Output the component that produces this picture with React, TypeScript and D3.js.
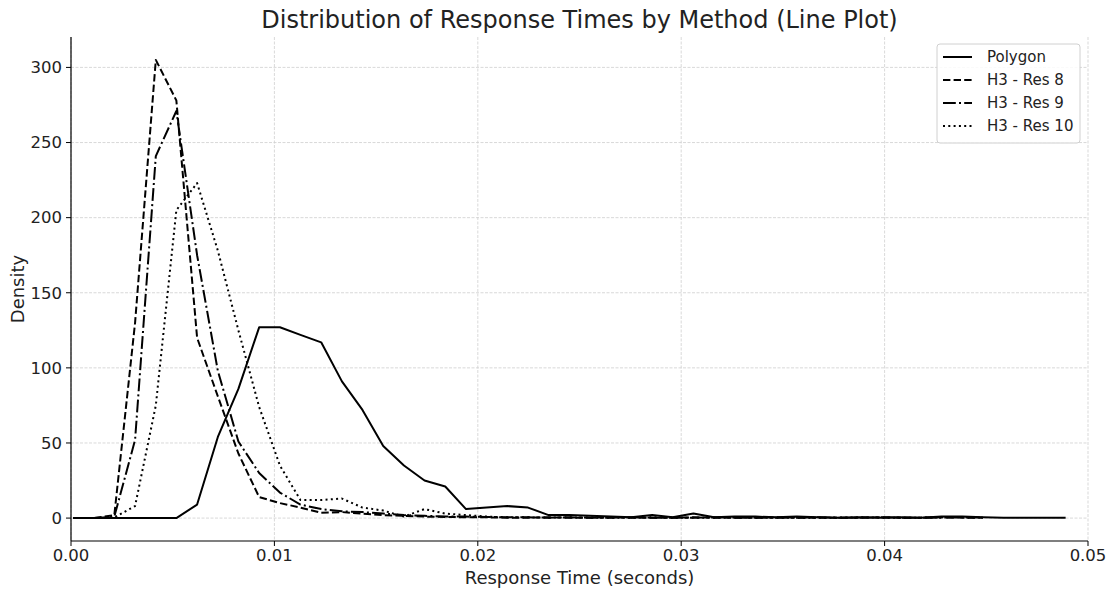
import React from 'react';
import * as d3 from 'd3';

// bin centres (seconds)
const BINS = [
  0.0001, 0.00112, 0.00213, 0.00315, 0.00417, 0.00518, 0.0062, 0.00722, 0.00823, 0.00925,
  0.01027, 0.01128, 0.0123, 0.01332, 0.01433, 0.01535, 0.01637, 0.01738, 0.0184, 0.01942,
  0.02043, 0.02145, 0.02247, 0.02348, 0.0245, 0.02552, 0.02653, 0.02755, 0.02857, 0.02958,
  0.0306, 0.03162, 0.03263, 0.03365, 0.03467, 0.03568, 0.0367, 0.03772, 0.03873, 0.03975,
  0.04077, 0.04178, 0.0428, 0.04382, 0.04483, 0.04585, 0.04687, 0.04788, 0.0489,
];

const POLYGON = [
  0, 0, 0, 0, 0, 0, 9, 54, 86, 127,
  127, 122, 117, 91, 72, 48, 35, 25, 21, 6,
  7, 8, 7, 2, 2, 1.5, 1, 0.5, 2, 0.5,
  3, 0.5, 1, 1, 0.5, 1, 0.5, 0.3, 0.5, 0.3,
  0.5, 0.3, 1, 1, 0.5, 0.3, 0.3, 0.3, 0.3,
];
const RES8 = [
  0, 0, 2, 130, 305, 278, 120, 81, 43, 14,
  10, 7, 3.5, 4, 3, 2, 1.5, 1, 0.8, 0.5,
  0.5, 0.3, 0.3, 0.5, 0.3, 0.3, 0.5, 0.3, 0.3, 0.3,
  0.5, 0.3, 0.3, 0.3, 0.5, 0.3, 0.3, 0.3, 0.3, 0.5,
  0.3, 0.3, 0.5, 0.3, 0.3,
];
const RES9 = [
  0, 0, 1, 52, 241, 271, 175, 98, 51, 30,
  17, 9, 6, 4.5, 4, 3, 2, 1.5, 1, 1,
  0.8, 0.5, 0.5, 0.3, 0.5, 0.3, 0.3, 0.5, 0.3, 0.3,
  0.3, 0.5, 0.3, 0.3, 0.3, 0.3, 0.5, 0.3, 0.3, 0.5,
  0.3, 0.3, 0.3, 0.5, 0.3,
];
const RES10 = [
  0, 0, 0.5, 8, 75, 205, 223, 178, 125, 74,
  35, 12, 12, 13, 7, 5, 1, 6, 3, 2,
  1, 0.5, 0.5, 0.3, 0.5, 0.3, 0.3, 0.3, 0.5, 0.3,
  0.3, 0.3, 0.5, 0.3, 0.3, 0.3, 0.3, 0.3, 0.5, 0.3,
  0.3, 0.3, 0.5, 0.5, 0.3,
];

const SERIES = [
  { name: 'Polygon', values: POLYGON, dash: 'none' },
  { name: 'H3 - Res 8', values: RES8, dash: '7.4,3.2' },
  { name: 'H3 - Res 9', values: RES9, dash: '12.8,3.2,2,3.2' },
  { name: 'H3 - Res 10', values: RES10, dash: '2,3.3' },
];

const X_TICKS = [0, 0.01, 0.02, 0.03, 0.04, 0.05];
const Y_TICKS = [0, 50, 100, 150, 200, 250, 300];

const W = 1112, H = 594;
const left = 71, right = 1088, top = 37, bottom = 541;
const FONT = 'DejaVu Sans, sans-serif';

export default function App() {
  const x = d3.scaleLinear().domain([0, 0.05]).range([left, right]);
  const y = d3.scaleLinear().domain([-15.25, 320.25]).range([bottom, top]);

  const line = d3.line<[number, number]>().x(d => x(d[0])).y(d => y(d[1]));

  return (
    <div style={{ position: 'absolute', left: 0, top: 0 }}>
      <svg width={W} height={H} style={{ display: 'block', fontFamily: FONT }}>
        <rect width={W} height={H} fill="#fff" />

        {/* grid */}
        {X_TICKS.map(t => (
          <line key={'gx' + t} x1={x(t)} x2={x(t)} y1={top} y2={bottom}
            stroke="#cfcfcf" strokeWidth={0.8} strokeDasharray="3,1.5" />
        ))}
        {Y_TICKS.map(t => (
          <line key={'gy' + t} x1={left} x2={right} y1={y(t)} y2={y(t)}
            stroke="#cfcfcf" strokeWidth={0.8} strokeDasharray="3,1.5" />
        ))}

        {/* series */}
        {SERIES.map(s => (
          <path key={s.name}
            d={line(s.values.map((v, i) => [BINS[i], v] as [number, number])) || ''}
            fill="none" stroke="#000" strokeWidth={2}
            strokeDasharray={s.dash} strokeLinejoin="round" />
        ))}

        {/* spines */}
        <line x1={left} x2={left} y1={top} y2={bottom} stroke="#000" strokeWidth={1.2} />
        <line x1={left} x2={right} y1={bottom} y2={bottom} stroke="#000" strokeWidth={1.2} />

        {/* x ticks */}
        {X_TICKS.map(t => (
          <g key={'xt' + t} transform={`translate(${x(t)},${bottom})`}>
            <line y2={5} stroke="#000" strokeWidth={1} />
            <text y={20} textAnchor="middle" fontSize={16.5} fill="#222">{t.toFixed(2)}</text>
          </g>
        ))}
        {/* y ticks */}
        {Y_TICKS.map(t => (
          <g key={'yt' + t} transform={`translate(${left},${y(t)})`}>
            <line x2={-5} stroke="#000" strokeWidth={1} />
            <text x={-9} dy="0.35em" textAnchor="end" fontSize={16.5} fill="#222">{t}</text>
          </g>
        ))}

        {/* labels */}
        <text x={(left + right) / 2} y={28} textAnchor="middle" fontSize={24} fill="#222">
          Distribution of Response Times by Method (Line Plot)
        </text>
        <text x={(left + right) / 2} y={584} textAnchor="middle" fontSize={18} fill="#222">
          Response Time (seconds)
        </text>
        <text transform={`translate(24,${(top + bottom) / 2}) rotate(-90)`} textAnchor="middle"
          fontSize={18} fill="#222">Density</text>

        {/* legend */}
        <rect x={937} y={44} width={143} height={99} rx={3} fill="#fff" fillOpacity={0.85}
          stroke="#d0d0d0" strokeWidth={1} />
        {SERIES.map((s, i) => (
          <g key={'lg' + s.name} transform={`translate(943,${57 + i * 23})`}>
            <line x1={0} x2={29} stroke="#000" strokeWidth={2} strokeDasharray={s.dash} />
            <text x={44} dy="0.35em" fontSize={15} fill="#222">{s.name}</text>
          </g>
        ))}
      </svg>
    </div>
  );
}
